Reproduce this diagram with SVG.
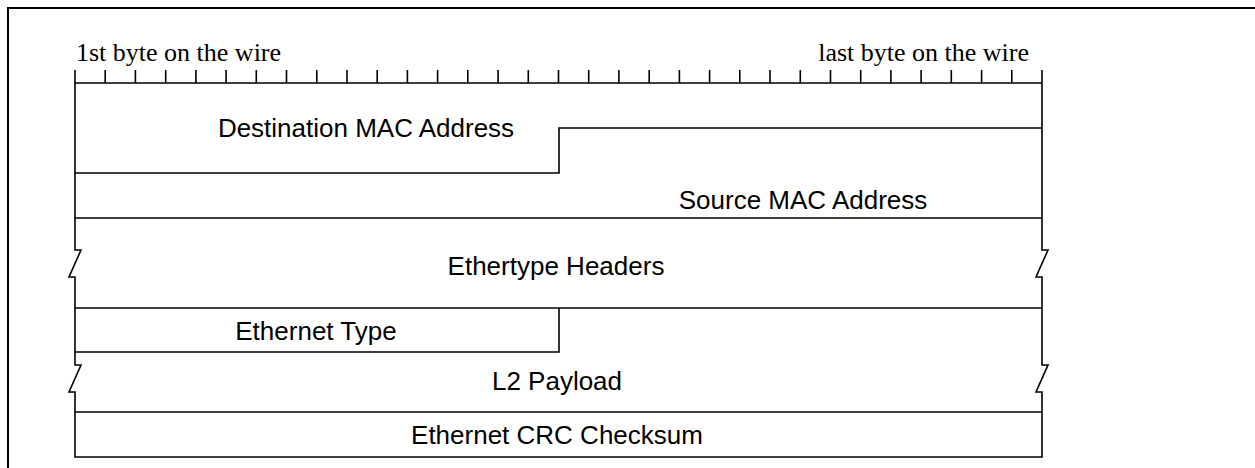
<svg xmlns="http://www.w3.org/2000/svg" width="1255" height="468" viewBox="0 0 1255 468">
<style>
.ln{fill:none;stroke:#000;stroke-width:1.6}
.bd{fill:none;stroke:#000;stroke-width:2}
.lbl{font-family:"Liberation Sans",Arial,sans-serif;font-size:26px;fill:#000;text-anchor:middle}
.top{font-family:"Liberation Serif","Times New Roman",serif;font-size:26px;fill:#000}
</style>
<rect width="1255" height="468" fill="#fff"/>
<path class="bd" d="M8,469 V8 H1256"/>
<g id="ruler">
<text class="top" x="76" y="61">1st byte on the wire</text>
<text class="top" x="1029" y="61" text-anchor="end">last byte on the wire</text>
<path class="ln" d="M75,83 H1042 M75,70 V83 M105.2,70 V83 M135.4,70 V83 M165.7,70 V83 M195.9,70 V83 M226.1,70 V83 M256.3,70 V83 M286.5,70 V83 M316.8,70 V83 M347,70 V83 M377.2,70 V83 M407.4,70 V83 M437.6,70 V83 M467.8,70 V83 M498.1,70 V83 M528.3,70 V83 M558.5,70 V83 M588.7,70 V83 M618.9,70 V83 M649.2,70 V83 M679.4,70 V83 M709.6,70 V83 M739.8,70 V83 M770,70 V83 M800.3,70 V83 M830.5,70 V83 M860.7,70 V83 M890.9,70 V83 M921.1,70 V83 M951.3,70 V83 M981.6,70 V83 M1011.8,70 V83 M1042,70 V83"/>
</g>
<g id="frame">
<path class="ln" d="M75,83 V250 H81 L69,277 H75 V365 H81 L69,392 H75 V457 H1042 V392 H1036 L1048,365 H1042 V277 H1036 L1048,250 H1042 V83"/>
</g>
<g id="connectors">
<path class="ln" d="M75,173 H559 V128 H1042"/>
<path class="ln" d="M75,218 H1042"/>
<path class="ln" d="M75,308 H1042"/>
<path class="ln" d="M75,352 H559 V308"/>
<path class="ln" d="M75,412 H1042"/>
</g>
<g id="dst"><text class="lbl" x="366" y="137">Destination MAC Address</text></g>
<g id="src"><text class="lbl" x="803" y="209">Source MAC Address</text></g>
<g id="ethertype"><text class="lbl" x="556" y="275">Ethertype Headers</text></g>
<g id="ethtype"><text class="lbl" x="316" y="340">Ethernet Type</text></g>
<g id="payload"><text class="lbl" x="557" y="390">L2 Payload</text></g>
<g id="crc"><text class="lbl" x="557" y="444">Ethernet CRC Checksum</text></g>
</svg>
